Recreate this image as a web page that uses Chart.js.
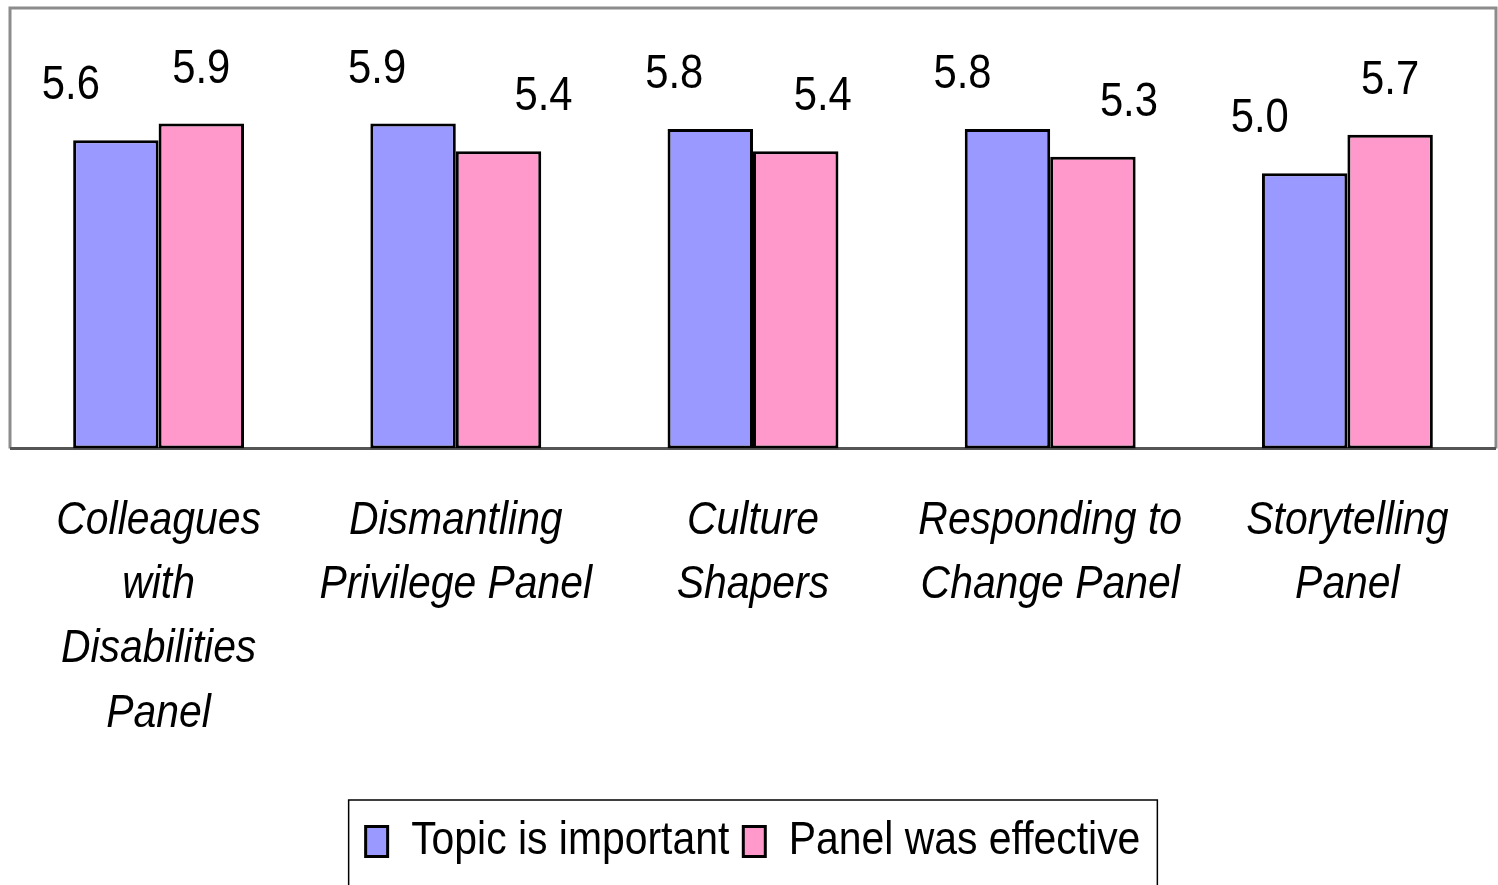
<!DOCTYPE html>
<html>
<head>
<meta charset="utf-8">
<script src="https://cdn.jsdelivr.net/npm/chart.js@4"></script>
<style>
  html, body { margin: 0; padding: 0; background: #fff; }
  #wrap { width: 1498px; height: 885px; }
</style>
</head>
<body>
<div id="wrap"><canvas id="chart"></canvas></div>
<script>
const categories = [
  ['Colleagues', 'with', 'Disabilities', 'Panel'],
  ['Dismantling', 'Privilege Panel'],
  ['Culture', 'Shapers'],
  ['Responding to', 'Change Panel'],
  ['Storytelling', 'Panel']
];
const seriesNames = ['Topic is important', 'Panel was effective'];
const topicImportant = [5.6, 5.9, 5.8, 5.8, 5.0];
const panelEffective = [5.9, 5.4, 5.4, 5.3, 5.7];

// horizontal nudge of each value label, as in the original
const labelShift = [[-45, -36, -36, -45, -45], [0, 45, 27, 36, 0]];

const FONT = "'Liberation Sans', Arial, sans-serif";
// the original uses a narrow face; squeeze text horizontally to match
const SQUEEZE = 0.87;

const canvas = document.getElementById('chart');
const ctx2d = canvas.getContext('2d');
const rawFill = ctx2d.fillText.bind(ctx2d);
const rawMeasure = ctx2d.measureText.bind(ctx2d);
ctx2d.fillText = function (t, x, y) {
  this.save();
  this.translate(x, y);
  this.scale(SQUEEZE, 1);
  rawFill(t, 0, 0);
  this.restore();
};
ctx2d.measureText = function (t) {
  const m = rawMeasure(t);
  return {
    width: m.width * SQUEEZE,
    actualBoundingBoxLeft: m.actualBoundingBoxLeft * SQUEEZE,
    actualBoundingBoxRight: m.actualBoundingBoxRight * SQUEEZE,
    actualBoundingBoxAscent: m.actualBoundingBoxAscent,
    actualBoundingBoxDescent: m.actualBoundingBoxDescent
  };
};

const valueLabels = {
  id: 'valueLabels',
  afterDatasetsDraw(chart) {
    const ctx = chart.ctx;
    ctx.save();
    ctx.font = '48px ' + FONT;
    ctx.fillStyle = '#000';
    ctx.textAlign = 'center';
    ctx.textBaseline = 'middle';
    chart.data.datasets.forEach((ds, di) => {
      chart.getDatasetMeta(di).data.forEach((bar, i) => {
        ctx.fillText(ds.data[i].toFixed(1), bar.x + labelShift[di][i], bar.y - 54);
      });
    });
    ctx.restore();
  }
};

const frame = {
  id: 'frame',
  beforeDatasetsDraw(chart) {
    const a = chart.chartArea, ctx = chart.ctx;
    ctx.save();
    ctx.strokeStyle = '#8c8c8c';
    ctx.lineWidth = 3;
    ctx.beginPath();
    ctx.moveTo(a.left, a.bottom);
    ctx.lineTo(a.left, a.top);
    ctx.lineTo(a.right, a.top);
    ctx.lineTo(a.right, a.bottom);
    ctx.stroke();
    ctx.strokeStyle = '#555';
    ctx.beginPath();
    ctx.moveTo(a.left, a.bottom);
    ctx.lineTo(a.right, a.bottom);
    ctx.stroke();
    ctx.restore();
  },
  afterDraw(chart) {
    const items = chart.legend.legendHitBoxes;
    if (!items || !items.length) return;
    const left = Math.min(...items.map(h => h.left)) - 17;
    const right = Math.max(...items.map(h => h.left + h.width)) + 17;
    const top = items[0].top - 18;
    const ctx = chart.ctx;
    ctx.save();
    ctx.strokeStyle = '#000';
    ctx.lineWidth = 1.5;
    ctx.strokeRect(left, top, right - left, 200);
    ctx.restore();
  }
};

new Chart(ctx2d, {
  type: 'bar',
  data: {
    labels: categories,
    datasets: [{
      label: seriesNames[0],
      data: topicImportant,
      backgroundColor: '#9999ff',
      borderColor: '#000',
      borderWidth: 3,
      borderSkipped: false
    }, {
      label: seriesNames[1],
      data: panelEffective,
      backgroundColor: '#ff99cc',
      borderColor: '#000',
      borderWidth: 3,
      borderSkipped: false
    }]
  },
  options: {
    responsive: true,
    maintainAspectRatio: false,
    animation: false,
    layout: { padding: { top: 8, left: 10, right: 2, bottom: 10 } },
    datasets: { bar: { barPercentage: 1, categoryPercentage: 0.575 } },
    scales: {
      x: {
        grid: { display: false, drawTicks: false },
        border: { display: false },
        ticks: {
          color: '#000',
          padding: 40,
          maxRotation: 0,
          autoSkip: false,
          font: { family: FONT, size: 47, style: 'italic', lineHeight: 1.37 }
        },
        afterFit(scale) { scale.height += 18; }
      },
      y: {
        display: false,
        min: 0,
        max: 8
      }
    },
    plugins: {
      legend: {
        position: 'bottom',
        labels: {
          color: '#000',
          boxWidth: 22,
          boxHeight: 30,
          padding: 14,
          font: { family: FONT, size: 47 }
        }
      },
      tooltip: { enabled: false }
    }
  },
  plugins: [valueLabels, frame]
});
</script>
</body>
</html>
